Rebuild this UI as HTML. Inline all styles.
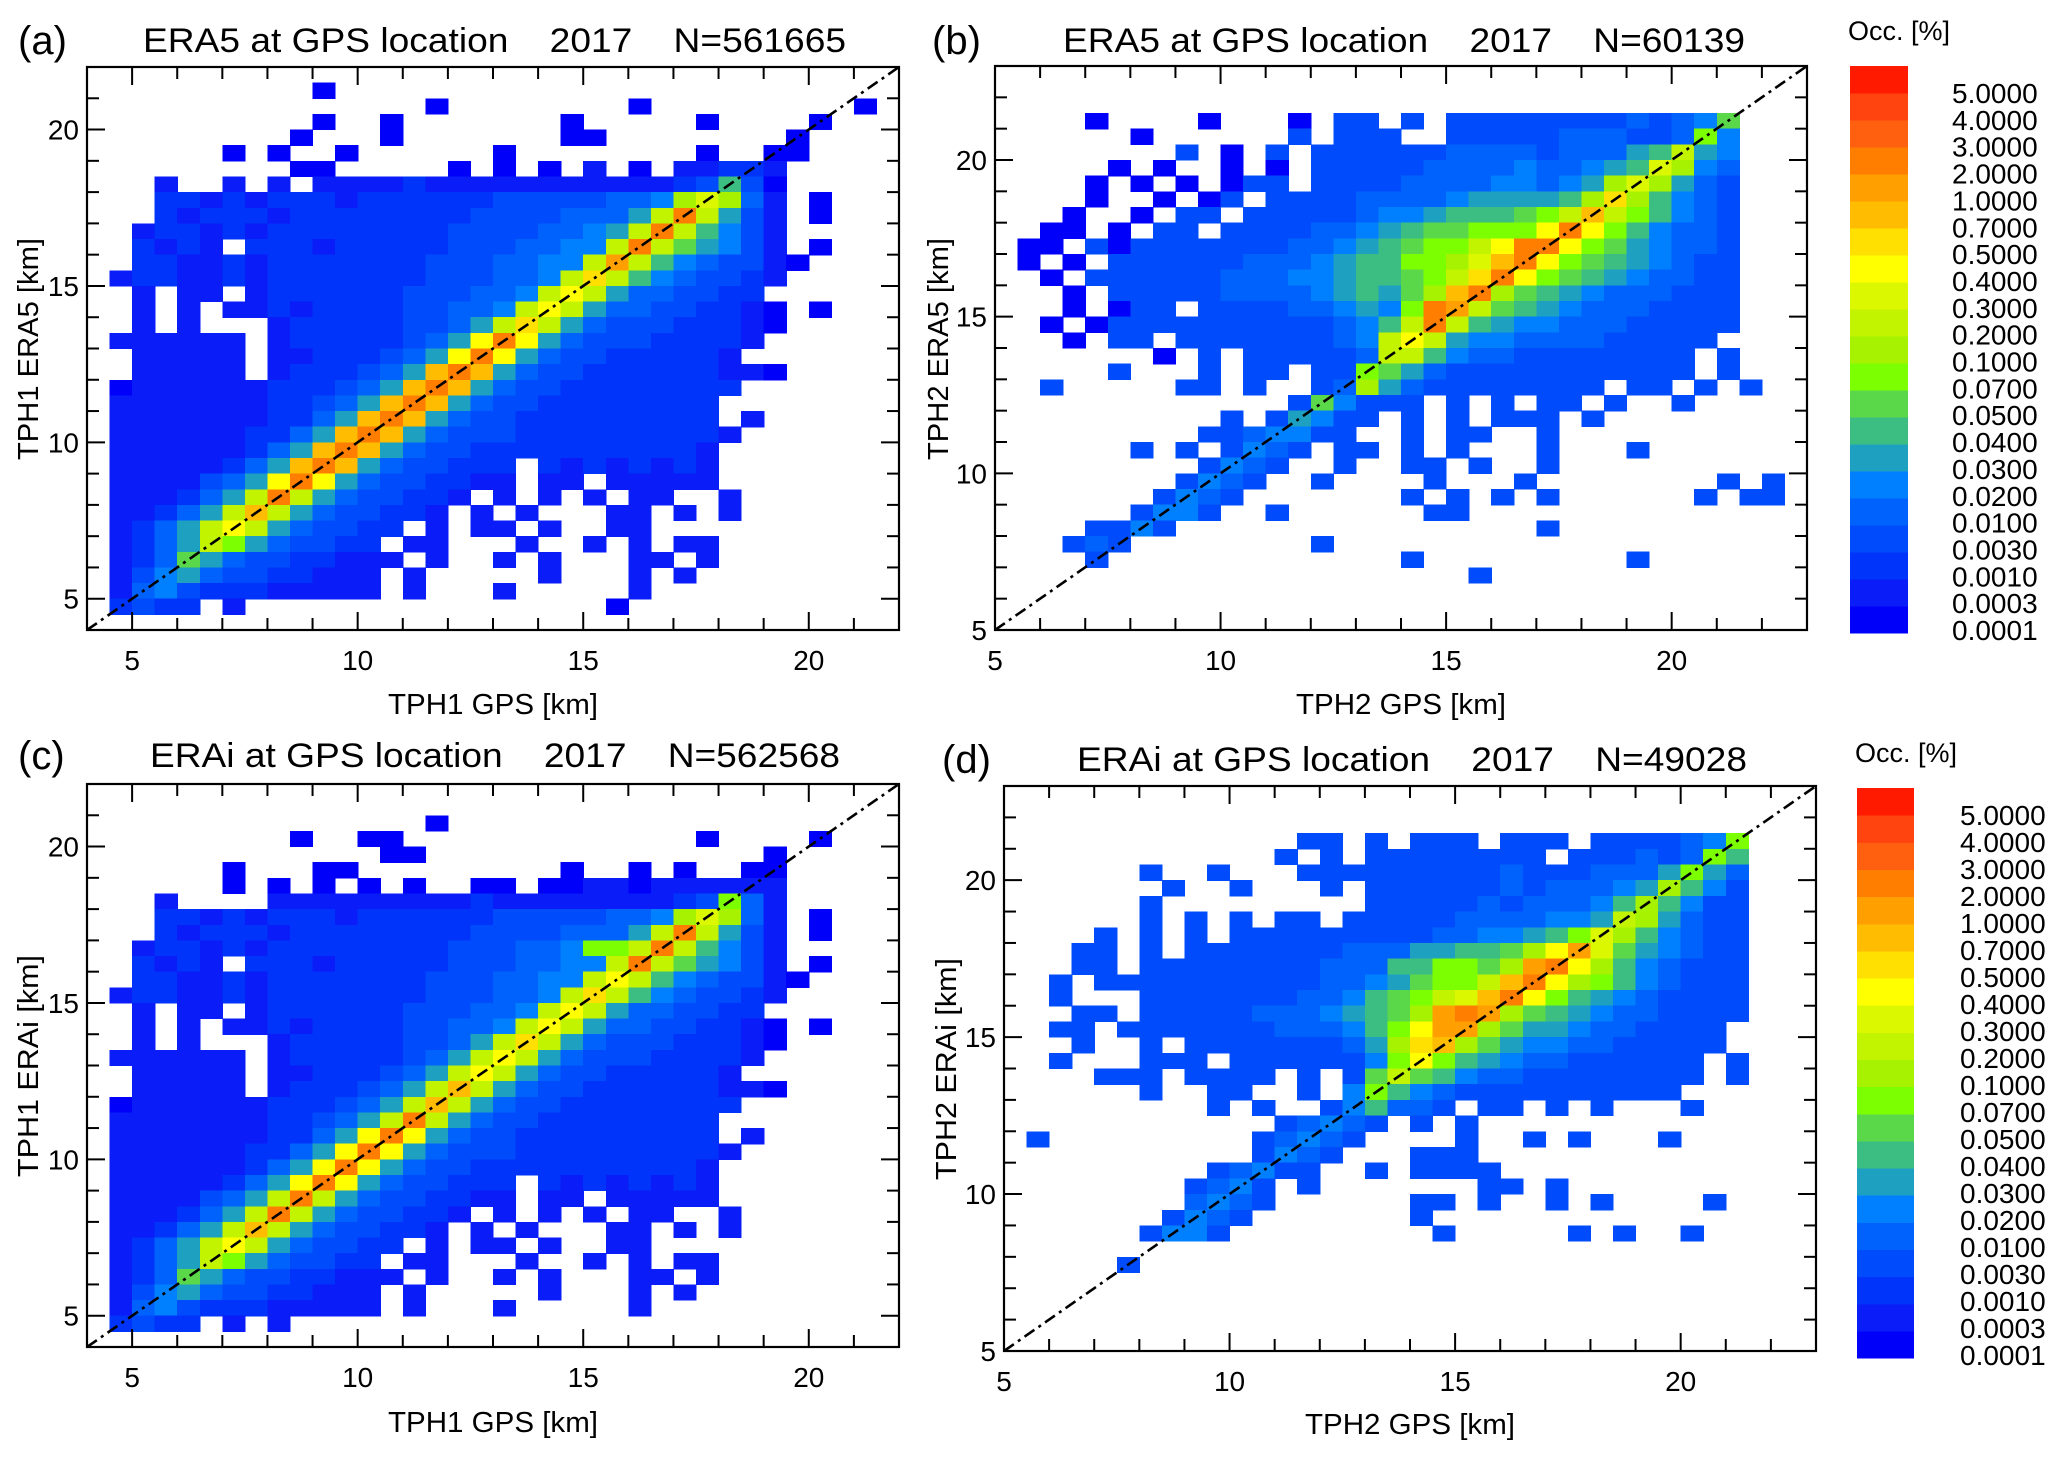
<!DOCTYPE html>
<html><head><meta charset="utf-8"><title>TPH ERA5 / ERAi vs GPS</title>
<style>html,body{margin:0;padding:0;background:#fff}svg{display:block}text{font-family:"Liberation Sans",sans-serif;fill:#000}</style>
</head><body>
<svg id="fig" xmlns="http://www.w3.org/2000/svg" width="2067" height="1458" viewBox="0 0 2067 1458"></svg>
<script>
// ---- data ----
const levelColors = ["#0000fa","#0a1cf8","#0034fa","#004cfc","#0062fc","#0080ff","#1ea0c0","#3cbe82","#5ad84a","#7cff00","#a6f200","#c2f400","#dcf800","#ffff00","#ffe000","#ffbc00","#ffa000","#ff7e00","#ff6010","#ff4410","#ff1a00"];
const colorbarLabels = ["5.0000","4.0000","3.0000","2.0000","1.0000","0.7000","0.5000","0.4000","0.3000","0.2000","0.1000","0.0700","0.0500","0.0400","0.0300","0.0200","0.0100","0.0030","0.0010","0.0003","0.0001"];
const majorTicks = [5,10,15,20];
const gridA = [
"......|......|......|......|......|......",
"......|....1.|......|......|......|......",
"......|......|...1..|......|1.....|....1.",
"......|....1.|.1....|...1..|...1..|..1...",
"......|...1..|.1....|...11.|......|.1....",
"......|1.1..1|......|1.....|...1..|11....",
"......|...11.|....1.|1.1.2.|1.2233|2.....",
"...2..|2.2.22|223222|222222|223484|1.....",
"...332|323332|333333|444445|56bdb5|2.1...",
"...323|332333|333334|444555|7cic74|2.1...",
"..2332|323333|333344|445567|cic864|2.....",
"..3232|.33323|333344|45566c|ic9764|2.1...",
"..3322|323333|333444|5566ch|c86544|21....",
".23322|323333|333444|556cfc|865443|2.....",
"..2.22|.23333|334445|56cec7|554433|......",
"..2.2.|223233|334455|6cec75|544332|1.1...",
"..2.2.|..2333|334457|cfc754|443332|1.....",
".22222|2.2333|33457e|ie7544|433332|......",
"..2222|2.2233|3457ei|e75443|33332.|......",
"..2222|2.2333|457gig|754433|333322|1.....",
".12222|223334|57gig7|544333|33333.|......",
".22222|223345|7gig75|443333|3333..|......",
".22222|223357|gig754|433333|3333.2|......",
".22222|23357g|ig7544|433333|33332.|......",
".22222|2357gi|g75443|333333|3332..|......",
".22222|357gig|754433|3.3232|3232..|......",
".22224|57eie7|544332|2.22.2|2222..|......",
".22235|7cic75|44332.|2.2.2.|22..2.|......",
".22357|cgc754|4332.2|.2...2|2.2.2.|......",
".2357c|ec7544|33.2.2|2.2..2|2.....|......",
".2357c|a75443|3.22..|.2..2.|2.22..|......",
".23597|544332|22.2..|2.2...|22.2..|......",
".24675|443322|2.2...|..2...|2.2...|......",
".25643|332222|2.2...|2.....|2.....|......",
".3433.|2.....|......|.....1|......|......",
"......|......|......|......|......|......"];
const gridB = [
"......|......|......|......|......|......",
"......|......|......|......|......|......",
"......|......|......|......|......|......",
"....1.|...1..|.1.44.|4.4444|444454|569...",
"......|1.....|.4.444|..4444|455544|5a6...",
"......|..4.1.|4.4444|445555|455578|c76...",
".....1|.1..1.|1.4444|455556|55678d|b65...",
"....1.|1.1.14|4.4444|555566|567bdb|754...",
"....1.|.1.14.|444455|556777|78bfb8|654...",
"...1..|1.44.4|444456|678889|acgca8|654...",
"..11.1|.44.44|445567|899aaa|eiea86|554...",
".11.41|444444|455678|9aacei|iea976|554...",
".1.1.4|444445|556788|aabdgi|ea9876|544...",
"..1.44|444455|566788|9acfie|a98765|544...",
"...1.4|444455|556787|9bgib9|876555|444...",
"...1.1|44.444|455676|aihc98|765554|444...",
"..1.14|444444|444568|cic876|655544|444...",
"...1.4|4.4444|44456c|ec7665|555444|44....",
"......|.1.4.4|44445c|c86554|444444|4.4...",
".....4|...4.4|4.44a9|754444|444444|4.4...",
"..4...|..44.4|..45b7|544444|444.44|.4.4..",
"......|......|.49644|4.4.4.|44.4..|4.....",
"......|....4.|47644.|4.4.44|4.4...|......",
"......|...445|6644..|4.44..|4.....|......",
"......|4.4.46|54.44.|4.4...|4...4.|......",
"......|...465|4..4..|44.4..|4.....|......",
"......|..4654|..4...|.4...4|......|..4.4.",
"......|.4654.|......|4.4.4.|4.....|.4.44.",
"......|4664..|4.....|.44...|......|......",
"....44|64....|......|......|4.....|......",
"...454|......|..4...|......|......|......",
"....4.|......|......|4.....|....4.|......",
"......|......|......|...4..|......|......",
"......|......|......|......|......|......",
"......|......|......|......|......|......",
"......|......|......|......|......|......"];
const gridC = [
"......|......|......|......|......|......",
"......|......|......|......|......|......",
"......|......|...1..|......|......|......",
"......|...1..|11....|......|...1..|..1...",
"......|......|.11...|......|......|1.....",
"......|1...11|......|...1..|1.1..1|1.....",
"......|1.1.1.|1.1..1|1.1122|122222|2.....",
"...2..|..2222|222223|222222|2234a5|2.....",
"...332|323332|333333|444445|56bdb5|2.1...",
"...323|332333|333334|444555|7cic74|2.1...",
"..2332|323333|333344|4556aa|cic864|2.....",
"..3232|.33323|333344|45566c|ic9764|2.1...",
"..3322|323333|333444|5566ce|c86544|21....",
".23322|323333|333444|556cfc|865443|2.....",
"..2.22|.23333|334445|56cec7|554433|......",
"..2.2.|223233|334455|6cec75|544332|1.1...",
"..2.2.|..2333|334457|cfc754|443332|1.....",
".22222|2.2333|33457c|ec7544|433332|......",
"..2222|2.2233|3457ce|c75443|33332.|......",
"..2222|2.2333|457cgc|754433|333322|1.....",
".12222|223334|57cgc7|544333|33333.|......",
".22222|223345|7cic75|443333|3333..|......",
".22222|223357|eie754|433333|3333.2|......",
".22222|23357e|ie7544|433333|33332.|......",
".22222|2357ei|e75443|333333|3332..|......",
".22222|357eie|754433|3.3232|3232..|......",
".22224|57cic7|544332|2.22.2|2222..|......",
".22235|7cic75|44332.|2.2.2.|22..2.|......",
".22357|cgc754|4332.2|.2...2|2.2.2.|......",
".2357c|ec7544|33.2.2|2.2..2|2.....|......",
".2357c|a75443|3.22..|.2..2.|2.22..|......",
".23597|544332|22.2..|2.2...|22.2..|......",
".24675|443322|2.2...|..2...|2.2...|......",
".25643|332222|2.2...|2.....|2.....|......",
".3433.|2.2...|......|......|......|......",
"......|......|......|......|......|......"];
const gridD = [
"......|......|......|......|......|......",
"......|......|......|......|......|......",
"......|......|......|......|......|......",
"......|......|.44.4.|444.44|4.4444|56a...",
"......|......|4.4.44|444444|.44454|5a8...",
"......|4..4..|.44444|444454|445557|a75...",
"......|.4..4.|..4.44|444454|55567b|864...",
"......|4.....|....44|444545|5568b8|644...",
"......|4.4.4.|44.444|445555|667cb7|544...",
"....4.|4.4.44|444444|455667|8adb86|544...",
"...44.|4.4444|444555|77889b|ehd976|544...",
"...44.|444444|445558|8aa9bh|ieb865|444...",
"..4.44|444444|445567|9aacgi|eba865|444...",
"..4...|444444|455689|acdgie|a87654|444...",
"...44.|444445|556789|bhihb9|876554|444...",
"..44.4|444444|55568a|ehhb97|765544|44....",
"...4..|4.4444|44457b|fgb976|655444|44....",
"..4...|444.44|44446a|ea8765|544444|4.4...",
"....44|4.4444|.4.49c|986554|444444|4.4...",
"......|4..44.|.4.6a8|654444|444444|......",
"......|...4.4|..4685|54.44.|4.4...|4.....",
"......|......|45654.|4.4...|......|......",
".4....|.....4|5654..|..4..4|.4...4|......",
"......|.....4|654...|444...|......|......",
"......|...456|44..4.|4444..|......|......",
"......|..4564|.4....|...44.|4.....|......",
"......|..5654|......|44.4..|4.4...|.4....",
"......|.4654.|......|4.....|......|......",
"......|4664..|......|.4....|.4.4..|4.....",
"......|......|......|......|......|......",
".....4|......|......|......|......|......",
"......|......|......|......|......|......",
"......|......|......|......|......|......",
"......|......|......|......|......|......",
"......|......|......|......|......|......",
"......|......|......|......|......|......"];

// ---- rendering ----
const NS = "http://www.w3.org/2000/svg";
const svg = document.getElementById("fig");
function mk(tag, attrs, parent){const e=document.createElementNS(NS,tag);for(const k in attrs)e.setAttribute(k,attrs[k]);(parent||svg).appendChild(e);return e;}
function lvl(c){if(c==='.')return 0;return parseInt(c,36);}

const panels = [
 {id:"a", grid:gridA, L:87, R:899, T:67, B:630, d0:4, d1:22, title:"ERA5 at GPS location    2017    N=561665", tx:143, tw:703, ty:52, lx:18, xt:"TPH1 GPS [km]", yt:"TPH1 ERA5 [km]", xtx:493, xty:714, ytx:38, yty:349},
 {id:"b", grid:gridB, L:995, R:1807, T:66, B:630, d0:5, d1:23, title:"ERA5 at GPS location    2017    N=60139", tx:1063, tw:682, ty:52, lx:932, xt:"TPH2 GPS [km]", yt:"TPH2 ERA5 [km]", xtx:1401, xty:714, ytx:948, yty:349},
 {id:"c", grid:gridC, L:87, R:899, T:784, B:1347, d0:4, d1:22, title:"ERAi at GPS location    2017    N=562568", tx:150, tw:690, ty:767, lx:18, xt:"TPH1 GPS [km]", yt:"TPH1 ERAi [km]", xtx:493, xty:1432, ytx:38, yty:1066},
 {id:"d", grid:gridD, L:1004, R:1816, T:786, B:1351, d0:5, d1:23, title:"ERAi at GPS location    2017    N=49028", tx:1077, tw:670, ty:771, lx:942, xt:"TPH2 GPS [km]", yt:"TPH2 ERAi [km]", xtx:1410, xty:1434, ytx:956, yty:1069}
];

panels.forEach(p=>{
  const g = mk("g",{});
  
  
  const xs = v => p.L + (v-p.d0)/(p.d1-p.d0)*(p.R-p.L);
  const ys = v => p.B - (v-p.d0)/(p.d1-p.d0)*(p.B-p.T);
  const cells = mk("g",{"shape-rendering":"crispEdges"},g);
  
  
  const bin = 0.5;
  p.grid.forEach((row,j)=>{
    const s = row.replace(/\|/g,'');
    for(let i=0;i<s.length;i++){
      const v = lvl(s[i]); if(!v) continue;
      const x0 = p.d0 + bin*i, y1 = p.d1 - bin*j;
      const r = mk("rect",{x:xs(x0).toFixed(2), y:ys(y1).toFixed(2), width:(xs(x0+bin)-xs(x0)+0.6).toFixed(2), height:(ys(y1-bin)-ys(y1)+0.6).toFixed(2), fill:levelColors[v-1]},cells);
      
      
    }
  });
  const dl = mk("line",{x1:xs(p.d0),y1:ys(p.d0),x2:xs(p.d1),y2:ys(p.d1),stroke:"#000","stroke-width":2.6,"stroke-dasharray":"12 5 3 5"},g);
  
  
  const fr = mk("rect",{x:p.L,y:p.T,width:p.R-p.L,height:p.B-p.T,fill:"none",stroke:"#000","stroke-width":2.2},g);
  
  
  const tk = mk("g",{stroke:"#000","stroke-width":2},g);
  
  
  for(let v=Math.ceil(p.d0); v<=p.d1; v++){
    if(v===p.d0||v===p.d1) continue;
    const len = majorTicks.includes(v)?18:12;
    const x=xs(v), y=ys(v);
    mk("line",{x1:x,y1:p.B,x2:x,y2:p.B-len},tk);
    mk("line",{x1:x,y1:p.T,x2:x,y2:p.T+len},tk);
    mk("line",{x1:p.L,y1:y,x2:p.L+len,y2:y},tk);
    mk("line",{x1:p.R,y1:y,x2:p.R-len,y2:y},tk);
  }
  majorTicks.forEach(v=>{
    const tx = mk("text",{x:xs(v),y:p.B+40,"font-size":28,"text-anchor":"middle"},g);
    tx.textContent = v;
    
    
    const ty = mk("text",{x:p.L-8,y:ys(v)+10,"font-size":28,"text-anchor":"end"},g);
    ty.textContent = v;
    
    
  });
  const lab = mk("text",{x:p.lx,y:p.ty+2,"font-size":40},g);
  lab.textContent = "("+p.id+")";
  
  
  const tt = mk("text",{x:p.tx,y:p.ty,"font-size":34,textLength:p.tw,lengthAdjust:"spacingAndGlyphs",style:"white-space:pre"},g);
  tt.textContent = p.title;
  
  
  const xt = mk("text",{x:p.xtx,y:p.xty,"font-size":29,"text-anchor":"middle",textLength:210,lengthAdjust:"spacingAndGlyphs"},g);
  xt.textContent = p.xt;
  
  
  const yt = mk("text",{x:0,y:0,"font-size":29,"text-anchor":"middle",textLength:222,lengthAdjust:"spacingAndGlyphs",transform:`translate(${p.ytx},${p.yty}) rotate(-90)`},g);
  yt.textContent = p.yt;
  
  
});

[{x:1850,w:58,T:66,B:633,lx:1952,ty:40},{x:1857,w:57,T:788,B:1358,lx:1960,ty:762}].forEach((c,k)=>{
  const g = mk("g",{});
  
  
  const n = levelColors.length, h=(c.B-c.T)/n;
  levelColors.forEach((col,i)=>{
    const r = mk("rect",{x:c.x,y:(c.B-(i+1)*h).toFixed(2),width:c.w,height:(h+0.6).toFixed(2),fill:col,"shape-rendering":"crispEdges"},g);
    
    
  });
  const t = mk("text",{x:c.x-2,y:c.ty,"font-size":27},g);
  t.textContent = "Occ. [%]";
  
  
  const top = c.T+27, bot = c.B-3, step=(bot-top)/(colorbarLabels.length-1);
  colorbarLabels.forEach((s,i)=>{
    const l = mk("text",{x:c.lx,y:(top+i*step+10).toFixed(1),"font-size":28},g);
    l.textContent = s;
    
    
  });
});
</script>
</body></html>
